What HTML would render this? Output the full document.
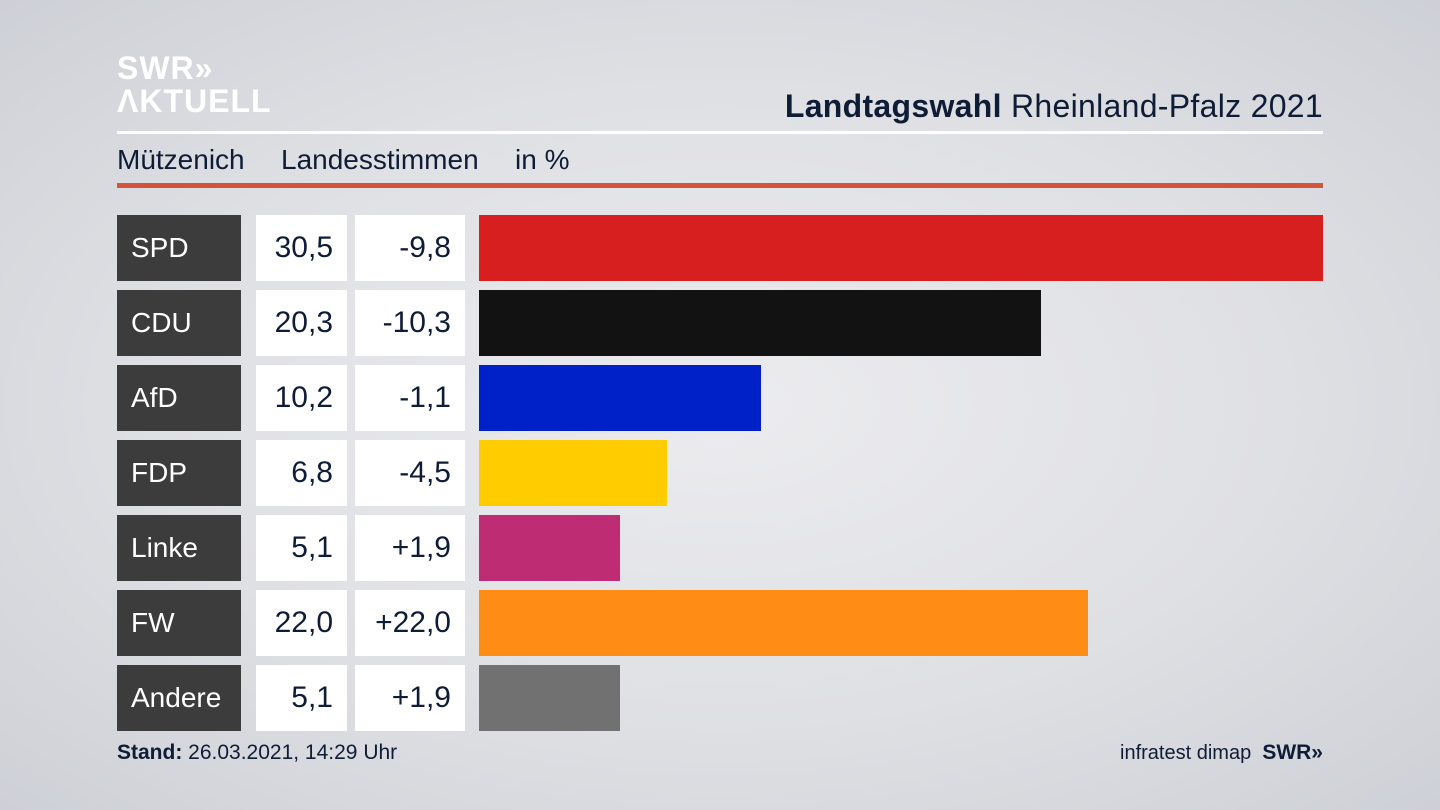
<!DOCTYPE html>
<html><head><meta charset="utf-8"><style>
body{margin:0;width:1440px;height:810px;overflow:hidden;background:radial-gradient(ellipse at 50% 50%,#ececef 0%,#dfe0e4 55%,#cdd0d6 100%);font-family:"Liberation Sans",sans-serif;color:#0f1c36;position:relative}
.abs{position:absolute}
.lab{background:#3c3c3c;color:#fff;font-size:28px;box-sizing:border-box;padding-left:14px;display:flex;align-items:center}
.num{background:#fff;font-size:30px;box-sizing:border-box;padding-right:14px;display:flex;align-items:center;justify-content:flex-end}
</style></head><body>
<div class="abs" style="left:117px;top:52px;color:#fff;font-weight:bold;font-size:32px;line-height:33px;letter-spacing:1px">SWR&#187;<br>ΛKTUELL</div>
<div class="abs" style="right:117px;top:88px;font-size:32px;letter-spacing:0.3px"><b>Landtagswahl</b> Rheinland-Pfalz 2021</div>
<div class="abs" style="left:117px;top:131px;width:1206px;height:3px;background:#fff"></div>
<div class="abs" style="left:117px;top:144px;font-size:28px">Mützenich</div>
<div class="abs" style="left:281px;top:144px;font-size:28px">Landesstimmen</div>
<div class="abs" style="left:515px;top:144px;font-size:28px">in %</div>
<div class="abs" style="left:117px;top:183px;width:1206px;height:5px;background:#d4533b"></div>
<div id="chart"></div>
<div class="abs" style="left:117px;top:741px;font-size:21px"><b>Stand:</b> 26.03.2021, 14:29 Uhr</div>
<div class="abs" style="right:117px;top:741px;font-size:20px">infratest dimap&nbsp;&nbsp;<b style="font-size:21px">SWR&#187;</b></div>
<script>
const parties=["SPD","CDU","AfD","FDP","Linke","FW","Andere"];
const values=[30.5,20.3,10.2,6.8,5.1,22.0,5.1];
const diffs=["-9,8","-10,3","-1,1","-4,5","+1,9","+22,0","+1,9"];
const colors=["#d71f1f","#121212","#0020c8","#ffcc00","#be2d73","#ff8c14","#717171"];
const x0=479,pxPer=844/30.5,top0=215,rowH=66,pitch=75;
const c=document.getElementById('chart');
function mk(cls,l,t,w,h,txt,bg){const d=document.createElement('div');d.className='abs '+cls;d.style.cssText=`left:${l}px;top:${t}px;width:${w}px;height:${h}px;`+(bg?`background:${bg}`:'');if(txt!=null)d.textContent=txt;c.appendChild(d);return d;}
parties.forEach((p,i)=>{const y=top0+i*pitch;
const a=mk('lab',117,y,124,rowH,p);


const b=mk('num',256,y,91,rowH,values[i].toFixed(1).replace('.',','));


const d=mk('num',355,y,110,rowH,diffs[i]);


const r=mk('',x0,y,values[i]*pxPer,rowH,null,colors[i]);


});
</script>
</body></html>
